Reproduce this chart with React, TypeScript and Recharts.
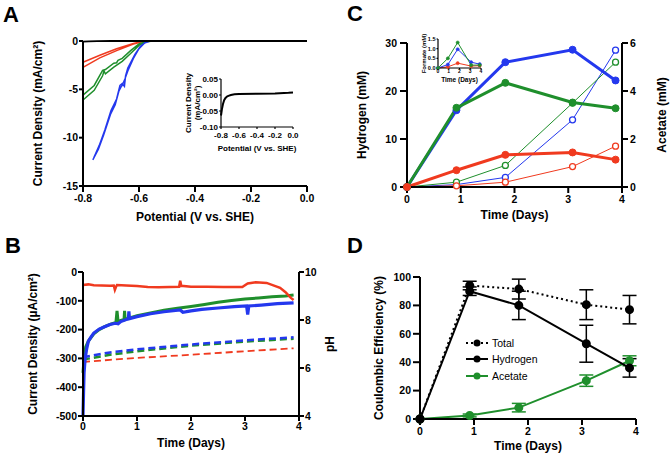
import {
  ErrorBar,
  Label,
  Legend,
  Line,
  LineChart,
  XAxis,
  YAxis,
} from "recharts";

const RED = "#f03a1f";
const GREEN = "#1f8f2c";
const BLUE = "#2438ee";

// A: linear sweep voltammetry (potential V vs SHE, current density mA/cm2)
const lsvBlackV = [-0.8, -0.78, -0.75, -0.7, 0];
const lsvBlackJ = [-0.06, -0.03, -0.01, 0, 0];
const lsvRedV = [-0.8, -0.74, -0.68, -0.62, -0.58, -0.55, 0, -0.55, -0.59, -0.62, -0.68, -0.74, -0.8];
const lsvRedJ = [-2.72, -1.75, -1.0, -0.32, -0.02, 0, 0, 0, -0.05, -0.25, -0.8, -1.48, -2.2];
const lsvGreenV = [-0.8, -0.76, -0.73, -0.725, -0.72, -0.69, -0.66, -0.63, -0.6, -0.57, -0.55, 0, -0.55, -0.58, -0.6, -0.63, -0.66, -0.675, -0.68, -0.69, -0.72, -0.73, -0.76, -0.8];
const lsvGreenJ = [-6.1, -5.1, -3.6, -3.1, -3.4, -2.7, -2.1, -1.3, -0.45, -0.02, 0, 0, 0, -0.1, -0.3, -1.0, -1.8, -2.0, -2.25, -2.3, -2.95, -3.05, -4.6, -5.6];
const lsvBlueV = [-0.765, -0.745, -0.726, -0.702, -0.685, -0.672, -0.665, -0.66, -0.65, -0.64, -0.62, -0.6, -0.58, -0.56, 0, -0.56, -0.575, -0.595, -0.615, -0.64, -0.648, -0.652, -0.66, -0.668, -0.68, -0.7, -0.722, -0.742, -0.762];
const lsvBlueJ = [-12.3, -11.2, -9.7, -7.6, -6.6, -5.2, -4.8, -4.6, -3.9, -3.1, -1.8, -0.8, -0.2, 0, 0, 0, -0.1, -0.55, -1.4, -2.8, -3.6, -4.7, -4.4, -4.6, -6.0, -7.2, -9.2, -10.8, -12.1];
const insetV = [-0.8, -0.79, -0.777, -0.765, -0.75, -0.73, -0.71, -0.69, -0.65, -0.6, -0.4, -0.2, -0.05, 0];
const insetJ = [-0.064, -0.045, -0.027, -0.016, -0.009, -0.004, -0.002, 0.0, 0.002, 0.003, 0.004, 0.005, 0.007, 0.008];
const potentialTicks = [-0.8, -0.6, -0.4, -0.2, 0];

// B: chronoamperometry (days, µA/cm2) and pH
const caRedT = [0, 0.1, 0.2, 0.35, 0.5, 0.57, 0.59, 0.61, 0.63, 0.8, 1.0, 1.2, 1.4, 1.6, 1.78, 1.8, 1.82, 2.0, 2.3, 2.6, 2.8, 2.95, 3.05, 3.2, 3.4, 3.55, 3.65, 3.75, 3.85, 3.9];
const caRedJ = [-45, -43, -46, -47, -48, -47, -62, -52, -45, -47, -49, -52, -53, -52, -51, -30, -48, -51, -51, -52, -52, -52, -40, -36, -38, -48, -55, -70, -90, -97];
const caGreenT = [0, 0.02, 0.05, 0.1, 0.2, 0.3, 0.4, 0.5, 0.61, 0.63, 0.65, 0.7, 0.76, 0.77, 0.78, 0.85, 1.0, 1.25, 1.5, 1.75, 2.0, 2.25, 2.5, 2.75, 3.0, 3.25, 3.5, 3.75, 3.9];
const caGreenJ = [-350, -300, -260, -240, -215, -200, -190, -182, -175, -135, -172, -168, -165, -135, -165, -160, -152, -142, -133, -126, -120, -113, -105, -99, -94, -90, -86, -83, -80];
const caBlueT = [0, 0.01, 0.02, 0.04, 0.07, 0.1, 0.15, 0.2, 0.3, 0.4, 0.5, 0.6, 0.65, 0.7, 0.8, 0.84, 0.85, 0.86, 1.0, 1.25, 1.5, 1.8, 1.85, 2.0, 2.2, 2.5, 2.8, 3.03, 3.05, 3.07, 3.3, 3.6, 3.9];
const caBlueJ = [-500, -420, -350, -300, -265, -240, -225, -212, -198, -190, -182, -178, -180, -172, -165, -162, -137, -162, -155, -145, -138, -132, -140, -135, -130, -125, -120, -118, -148, -118, -115, -110, -107];
const phT = [0, 0.5, 1, 2, 3, 3.9];
const phRed = [6.25, 6.34, 6.42, 6.55, 6.7, 6.82];
const phGreen = [6.35, 6.55, 6.7, 6.93, 7.1, 7.22];
const phBlue = [6.45, 6.65, 6.78, 6.98, 7.15, 7.28];

// C: products over time
const days = [0, 0.92, 1.83, 3.08, 3.88];
const h2Red = [0, 3.5, 6.7, 7.2, 5.7];
const h2Green = [0, 16.5, 21.7, 17.6, 16.4];
const h2Blue = [0, 16, 26, 28.6, 22.2];
const acRed = [0, 0.05, 0.2, 0.85, 1.7];
const acGreen = [0, 0.2, 0.9, 3.5, 5.2];
const acBlue = [0, 0.1, 0.4, 2.8, 5.7];
const fmRed = [0, 0.06, 0.25, 0.1, 0.12];
const fmGreen = [0, 0.5, 1.32, 0.15, 0.15];
const fmBlue = [0, 0.18, 0.97, 0.3, 0.2];
const dayTicks = [0, 1, 2, 3, 4];

// D: coulombic efficiency (%)
const ceTotal = [0, 94, 91.5, 80.5, 77];
const ceTotalErr = [0, 3, 7, 10.5, 10];
const ceHydrogen = [0, 90, 80, 53, 36];
const ceHydrogenErr = [0, 3, 10, 13, 6.5];
const ceAcetate = [0, 2.5, 8, 27, 41];
const ceAcetateErr = [0, 1, 3, 4, 3.5];
const legendItems = [
  { name: "Total", color: "#000", dash: "2 3" },
  { name: "Hydrogen", color: "#000", dash: "" },
  { name: "Acetate", color: GREEN, dash: "" },
];

const pairs = (xs: number[], ys: number[]) => xs.map((x, i) => ({ x, y: ys[i] }));

const productRows = days.map((day, i) => ({
  day,
  h2Red: h2Red[i],
  h2Green: h2Green[i],
  h2Blue: h2Blue[i],
  acRed: acRed[i],
  acGreen: acGreen[i],
  acBlue: acBlue[i],
  fmRed: fmRed[i],
  fmGreen: fmGreen[i],
  fmBlue: fmBlue[i],
}));

const ceRows = days.map((day, i) => ({
  day,
  total: ceTotal[i],
  totalErr: ceTotalErr[i],
  hydrogen: ceHydrogen[i],
  hydrogenErr: ceHydrogenErr[i],
  acetate: ceAcetate[i],
  acetateErr: ceAcetateErr[i],
}));

const axisLine = { stroke: "#000", strokeWidth: 2 };
const thinAxis = { stroke: "#000", strokeWidth: 1.2 };
const tick = (size: number) => ({ fill: "#000", fontSize: size, fontWeight: 700 });
const title = (size: number) => ({
  fill: "#000",
  fontSize: size,
  fontWeight: 700,
  textAnchor: "middle" as const,
});

function PanelA() {
  return (
    <LineChart width={320} height={230} margin={{ top: 41, right: 13, bottom: 0, left: 0 }}>
      <XAxis
        type="number"
        dataKey="x"
        domain={[-0.8, 0]}
        ticks={potentialTicks}
        interval={0}
        tickFormatter={(v: number) => v.toFixed(1)}
        height={44}
        axisLine={axisLine}
        tickLine={axisLine}
        tickSize={6}
        tickMargin={3}
        tick={tick(10.5)}
      >
        <Label value="Potential (V vs. SHE)" position="insideBottom" offset={9} style={title(12)} />
      </XAxis>
      <YAxis
        type="number"
        domain={[-15, 0]}
        ticks={[-15, -10, -5, 0]}
        interval={0}
        width={83}
        axisLine={axisLine}
        tickLine={axisLine}
        tickSize={4}
        tickMargin={1}
        tick={tick(10.5)}
      >
        <Label
          value="Current Density (mA/cm²)"
          angle={-90}
          position="insideLeft"
          offset={38}
          textAnchor="middle"
          style={title(12)}
        />
      </YAxis>
      <Line data={pairs(lsvRedV, lsvRedJ)} dataKey="y" stroke={RED} strokeWidth={1.5} dot={false} isAnimationActive={false} />
      <Line data={pairs(lsvGreenV, lsvGreenJ)} dataKey="y" stroke={GREEN} strokeWidth={1.5} dot={false} isAnimationActive={false} />
      <Line data={pairs(lsvBlueV, lsvBlueJ)} dataKey="y" stroke={BLUE} strokeWidth={1.5} dot={false} isAnimationActive={false} />
      <Line data={pairs(lsvBlackV, lsvBlackJ)} dataKey="y" stroke="#000" strokeWidth={1.8} dot={false} isAnimationActive={false} />
    </LineChart>
  );
}

function PanelAInset() {
  return (
    <LineChart width={140} height={95} margin={{ top: 14, right: 7, bottom: 0, left: 0 }}>
      <XAxis
        type="number"
        dataKey="x"
        domain={[-0.8, 0]}
        ticks={potentialTicks}
        interval={0}
        tickFormatter={(v: number) => v.toFixed(1)}
        height={33}
        axisLine={thinAxis}
        tickLine={thinAxis}
        tickSize={2}
        tickMargin={3}
        tick={tick(8)}
      >
        <Label value="Potential (V vs. SHE)" position="insideBottom" offset={9} style={title(8)} />
      </XAxis>
      <YAxis
        type="number"
        domain={[-0.1, 0.05]}
        ticks={[-0.1, -0.05, 0, 0.05]}
        interval={0}
        tickFormatter={(v: number) => v.toFixed(2)}
        width={61}
        axisLine={thinAxis}
        tickLine={thinAxis}
        tickSize={2}
        tickMargin={1}
        tick={tick(8)}
      >
        <Label value="Current Density" angle={-90} position="insideLeft" offset={28} textAnchor="middle" style={title(8)} />
        <Label value="(mA/cm²)" angle={-90} position="insideLeft" offset={37} textAnchor="middle" style={title(8)} />
      </YAxis>
      <Line data={pairs(insetV, insetJ)} dataKey="y" stroke="#000" strokeWidth={2} dot={false} isAnimationActive={false} />
    </LineChart>
  );
}

function PanelB() {
  return (
    <LineChart width={345} height={229} margin={{ top: 42, right: 0, bottom: 0, left: 0 }}>
      <XAxis
        type="number"
        dataKey="x"
        domain={[0, 4]}
        ticks={dayTicks}
        interval={0}
        height={43}
        axisLine={axisLine}
        tickLine={axisLine}
        tickSize={5}
        tickMargin={2}
        tick={tick(10.5)}
      >
        <Label value="Time (Days)" position="insideBottom" offset={12} style={title(12)} />
      </XAxis>
      <YAxis
        yAxisId="cd"
        type="number"
        domain={[-500, 0]}
        ticks={[-500, -400, -300, -200, -100, 0]}
        interval={0}
        width={83}
        axisLine={axisLine}
        tickLine={axisLine}
        tickSize={5}
        tickMargin={1}
        tick={tick(10.5)}
      >
        <Label
          value="Current Density (µA/cm²)"
          angle={-90}
          position="insideLeft"
          offset={33}
          textAnchor="middle"
          style={title(12)}
        />
      </YAxis>
      <YAxis
        yAxisId="ph"
        orientation="right"
        type="number"
        domain={[4, 10]}
        ticks={[4, 6, 8, 10]}
        interval={0}
        width={46}
        axisLine={axisLine}
        tickLine={axisLine}
        tickSize={5}
        tickMargin={1}
        tick={tick(10.5)}
      >
        <Label value="pH" angle={-90} position="insideRight" offset={15} textAnchor="middle" style={title(12)} />
      </YAxis>
      <Line yAxisId="ph" data={pairs(phT, phRed)} dataKey="y" stroke={RED} strokeWidth={1.8} strokeDasharray="7 4" dot={false} isAnimationActive={false} />
      <Line yAxisId="ph" data={pairs(phT, phGreen)} dataKey="y" stroke={GREEN} strokeWidth={2.5} strokeDasharray="7 4" dot={false} isAnimationActive={false} />
      <Line yAxisId="ph" data={pairs(phT, phBlue)} dataKey="y" stroke={BLUE} strokeWidth={2.5} strokeDasharray="7 4" dot={false} isAnimationActive={false} />
      <Line yAxisId="cd" data={pairs(caGreenT, caGreenJ)} dataKey="y" stroke={GREEN} strokeWidth={3} dot={false} isAnimationActive={false} />
      <Line yAxisId="cd" data={pairs(caBlueT, caBlueJ)} dataKey="y" stroke={BLUE} strokeWidth={3.2} dot={false} isAnimationActive={false} />
      <Line yAxisId="cd" data={pairs(caRedT, caRedJ)} dataKey="y" stroke={RED} strokeWidth={2.5} dot={false} isAnimationActive={false} />
    </LineChart>
  );
}

function PanelC() {
  const filled = (c: string) => ({ r: 3.5, fill: c, stroke: c, strokeWidth: 1 });
  const open = (c: string) => ({ r: 3, fill: "#fff", stroke: c, strokeWidth: 1.3 });
  return (
    <LineChart width={335} height={230} data={productRows} margin={{ top: 43, right: 0, bottom: 0, left: 0 }}>
      <XAxis
        type="number"
        dataKey="day"
        domain={[0, 4]}
        ticks={dayTicks}
        interval={0}
        height={43}
        axisLine={axisLine}
        tickLine={axisLine}
        tickSize={6}
        tickMargin={3}
        tick={tick(10.5)}
      >
        <Label value="Time (Days)" position="insideBottom" offset={11} style={title(12)} />
      </XAxis>
      <YAxis
        yAxisId="h2"
        type="number"
        domain={[0, 30]}
        ticks={[0, 10, 20, 30]}
        interval={0}
        width={72}
        axisLine={axisLine}
        tickLine={axisLine}
        tickSize={7}
        tickMargin={3}
        tick={tick(10.5)}
      >
        <Label value="Hydrogen (mM)" angle={-90} position="insideLeft" offset={27} textAnchor="middle" style={title(12)} />
      </YAxis>
      <YAxis
        yAxisId="ac"
        orientation="right"
        type="number"
        domain={[0, 6]}
        ticks={[0, 2, 4, 6]}
        interval={0}
        width={48}
        axisLine={axisLine}
        tickLine={axisLine}
        tickSize={6}
        tickMargin={2}
        tick={tick(10.5)}
      >
        <Label value="Acetate (mM)" angle={-90} position="insideRight" offset={8} textAnchor="middle" style={title(12)} />
      </YAxis>
      <Line yAxisId="ac" dataKey="acBlue" stroke={BLUE} strokeWidth={1} dot={open(BLUE)} activeDot={false} isAnimationActive={false} />
      <Line yAxisId="ac" dataKey="acGreen" stroke={GREEN} strokeWidth={1} dot={open(GREEN)} activeDot={false} isAnimationActive={false} />
      <Line yAxisId="ac" dataKey="acRed" stroke={RED} strokeWidth={1} dot={open(RED)} activeDot={false} isAnimationActive={false} />
      <Line yAxisId="h2" dataKey="h2Blue" stroke={BLUE} strokeWidth={3} dot={filled(BLUE)} activeDot={false} isAnimationActive={false} />
      <Line yAxisId="h2" dataKey="h2Green" stroke={GREEN} strokeWidth={3} dot={filled(GREEN)} activeDot={false} isAnimationActive={false} />
      <Line yAxisId="h2" dataKey="h2Red" stroke={RED} strokeWidth={3} dot={filled(RED)} activeDot={false} isAnimationActive={false} />
    </LineChart>
  );
}

function PanelCInset() {
  const dot = (c: string) => ({ r: 1.6, fill: c, stroke: c, strokeWidth: 0.5 });
  return (
    <LineChart width={85} height={60} data={productRows} margin={{ top: 14, right: 9, bottom: 0, left: 0 }}>
      <XAxis
        type="number"
        dataKey="day"
        domain={[0, 4]}
        ticks={dayTicks}
        interval={0}
        height={17}
        axisLine={thinAxis}
        tickLine={thinAxis}
        tickSize={1.5}
        tickMargin={0}
        tick={tick(5)}
      >
        <Label value="Time (Days)" position="insideBottom" offset={3.5} style={title(6.5)} />
      </XAxis>
      <YAxis
        type="number"
        domain={[0, 1.5]}
        ticks={[0, 0.5, 1, 1.5]}
        interval={0}
        tickFormatter={(v: number) => v.toFixed(1)}
        width={33}
        axisLine={thinAxis}
        tickLine={thinAxis}
        tickSize={1.5}
        tickMargin={1}
        tick={tick(5.5)}
      >
        <Label value="Formate (mM)" angle={-90} position="insideLeft" offset={19} textAnchor="middle" style={title(6)} />
      </YAxis>
      <Line dataKey="fmRed" stroke={RED} strokeWidth={1} dot={dot(RED)} activeDot={false} isAnimationActive={false} />
      <Line dataKey="fmBlue" stroke={BLUE} strokeWidth={1} dot={dot(BLUE)} activeDot={false} isAnimationActive={false} />
      <Line dataKey="fmGreen" stroke={GREEN} strokeWidth={1} dot={dot(GREEN)} activeDot={false} isAnimationActive={false} />
    </LineChart>
  );
}

function CeLegend() {
  return (
    <div style={{ fontFamily: '"Liberation Sans", Arial, sans-serif', fontWeight: 400, fontSize: 10.5 }}>
      {legendItems.map((item) => (
        <div key={item.name} style={{ display: "flex", alignItems: "center", height: 16.3 }}>
          <svg width={24} height={10} style={{ marginRight: 3 }}>
            <line x1={1} y1={5} x2={23} y2={5} stroke={item.color} strokeWidth={2} strokeDasharray={item.dash || undefined} />
            <circle cx={12} cy={5} r={3.5} fill={item.color} />
          </svg>
          <span style={{ color: "#000" }}>{item.name}</span>
        </div>
      ))}
    </div>
  );
}

function PanelD() {
  return (
    <LineChart width={335} height={229} data={ceRows} margin={{ top: 47, right: 34, bottom: 0, left: 0 }}>
      <XAxis
        type="number"
        dataKey="day"
        domain={[0, 4]}
        ticks={dayTicks}
        interval={0}
        height={40}
        axisLine={axisLine}
        tickLine={axisLine}
        tickSize={6}
        tickMargin={3}
        tick={tick(10.5)}
      >
        <Label value="Time (Days)" position="insideBottom" offset={9} style={title(12)} />
      </XAxis>
      <YAxis
        type="number"
        domain={[0, 100]}
        ticks={[0, 20, 40, 60, 80, 100]}
        interval={0}
        width={85}
        axisLine={axisLine}
        tickLine={axisLine}
        tickSize={7}
        tickMargin={2}
        tick={tick(10.5)}
      >
        <Label
          value="Coulombic Efficiency (%)"
          angle={-90}
          position="insideLeft"
          offset={44}
          textAnchor="middle"
          style={title(12)}
        />
      </YAxis>
      <Legend
        layout="vertical"
        align="center"
        verticalAlign="middle"
        content={() => <CeLegend />}
        wrapperStyle={{ left: 130, top: 105, width: 110 }}
      />
      <Line dataKey="acetate" name="Acetate" stroke={GREEN} strokeWidth={2} dot={{ r: 3.5, fill: GREEN, stroke: GREEN }} activeDot={false} isAnimationActive={false}>
        <ErrorBar dataKey="acetateErr" width={7} stroke={GREEN} strokeWidth={1.5} direction="y" />
      </Line>
      <Line dataKey="hydrogen" name="Hydrogen" stroke="#000" strokeWidth={2} dot={{ r: 3.5, fill: "#000", stroke: "#000" }} activeDot={false} isAnimationActive={false}>
        <ErrorBar dataKey="hydrogenErr" width={7} stroke="#000" strokeWidth={1.5} direction="y" />
      </Line>
      <Line dataKey="total" name="Total" stroke="#000" strokeWidth={2} strokeDasharray="2 3" dot={{ r: 3.5, fill: "#000", stroke: "#000", strokeDasharray: "" }} activeDot={false} isAnimationActive={false}>
        <ErrorBar dataKey="totalErr" width={7} stroke="#000" strokeWidth={1.5} direction="y" />
      </Line>
    </LineChart>
  );
}

const letterStyle = {
  position: "absolute" as const,
  fontSize: 22,
  fontWeight: 700,
  lineHeight: 1,
};

export default function App() {
  return (
    <div
      style={{
        position: "absolute",
        left: 0,
        top: 0,
        width: 670,
        height: 459,
        background: "#fff",
        overflow: "hidden",
        fontFamily: '"Liberation Sans", Arial, Helvetica, sans-serif',
        fontWeight: 700,
      }}
    >
      <div style={{ position: "absolute", left: 0, top: 0 }}>
        <PanelA />
      </div>
      <div style={{ position: "absolute", left: 160, top: 65 }}>
        <PanelAInset />
      </div>
      <div style={{ position: "absolute", left: 0, top: 230 }}>
        <PanelB />
      </div>
      <div style={{ position: "absolute", left: 335, top: 0 }}>
        <PanelC />
      </div>
      <div style={{ position: "absolute", left: 405, top: 25 }}>
        <PanelCInset />
      </div>
      <div style={{ position: "absolute", left: 335, top: 230 }}>
        <PanelD />
      </div>
      <div style={{ ...letterStyle, left: 3, top: 4 }}>A</div>
      <div style={{ ...letterStyle, left: 5, top: 235 }}>B</div>
      <div style={{ ...letterStyle, left: 347, top: 3 }}>C</div>
      <div style={{ ...letterStyle, left: 347, top: 235 }}>D</div>
    </div>
  );
}
